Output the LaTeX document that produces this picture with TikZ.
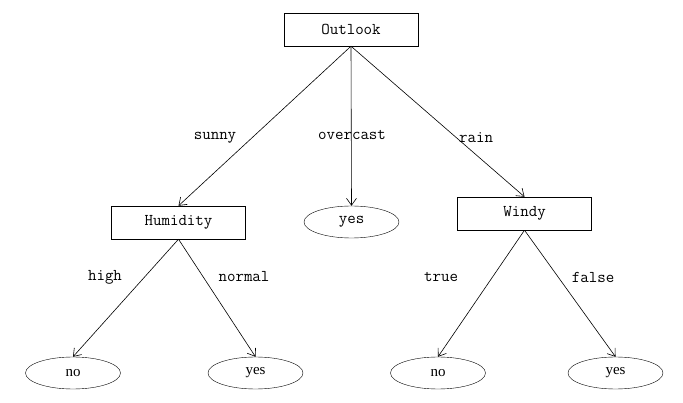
\documentclass[tikz,border=0pt]{standalone}
\usepackage{fontspec}
\setmainfont{Liberation Serif}
\usetikzlibrary{shapes.geometric,arrows.meta}
\begin{document}
\begin{tikzpicture}[x=1pt,y=-1pt,
  every node/.style={font=\ttfamily\fontsize{16.5}{18}\selectfont},
  boxnode/.style={draw,rectangle,minimum width=134pt,minimum height=33pt,inner sep=0pt},
  leaf/.style={draw,ellipse,minimum width=95pt,minimum height=32pt,inner sep=0pt},
  serifleaf/.style={leaf,font=\rmfamily\fontsize{15}{17}\selectfont},
  lbl/.style={inner sep=0pt},
  edge/.style={-{Straight Barb[length=7pt,width=10pt]},line width=0.6pt}]
\useasboundingbox (0,0) rectangle (683,403);
\node[boxnode] (outlook) at (351,29.5) {Outlook};
\node[boxnode] (hum) at (178.5,222.5) {Humidity};
\node[boxnode] (windy) at (524.5,213.5) {Windy};
\node[leaf] (yes1) at (351.5,222) {yes};
\node[serifleaf] (no1) at (73,373) {no};
\node[serifleaf] (yes2) at (255.5,373) {yes};
\node[serifleaf] (no2) at (438,373) {no};
\node[serifleaf] (yes3) at (615.5,373) {yes};
\draw[edge] (outlook.south) -- (hum.north);
\draw[edge] (outlook.south) -- (yes1.north);
\draw[edge] (outlook.south) -- (windy.north);
\draw[edge] (hum.south) -- (no1.north);
\draw[edge] (hum.south) -- (yes2.north);
\draw[edge] (windy.south) -- (no2.north);
\draw[edge] (windy.south) -- (yes3.north);
\node[lbl] (l1) at (215,138) {sunny};
\node[lbl] (l2) at (352,135) {overcast};
\node[lbl] (l3) at (476,138) {rain};
\node[lbl] (l4) at (105,277) {high};
\node[lbl] (l5) at (244,277) {normal};
\node[lbl] (l6) at (441,277) {true};
\node[lbl] (l7) at (593,277) {false};
\end{tikzpicture}
\end{document}
